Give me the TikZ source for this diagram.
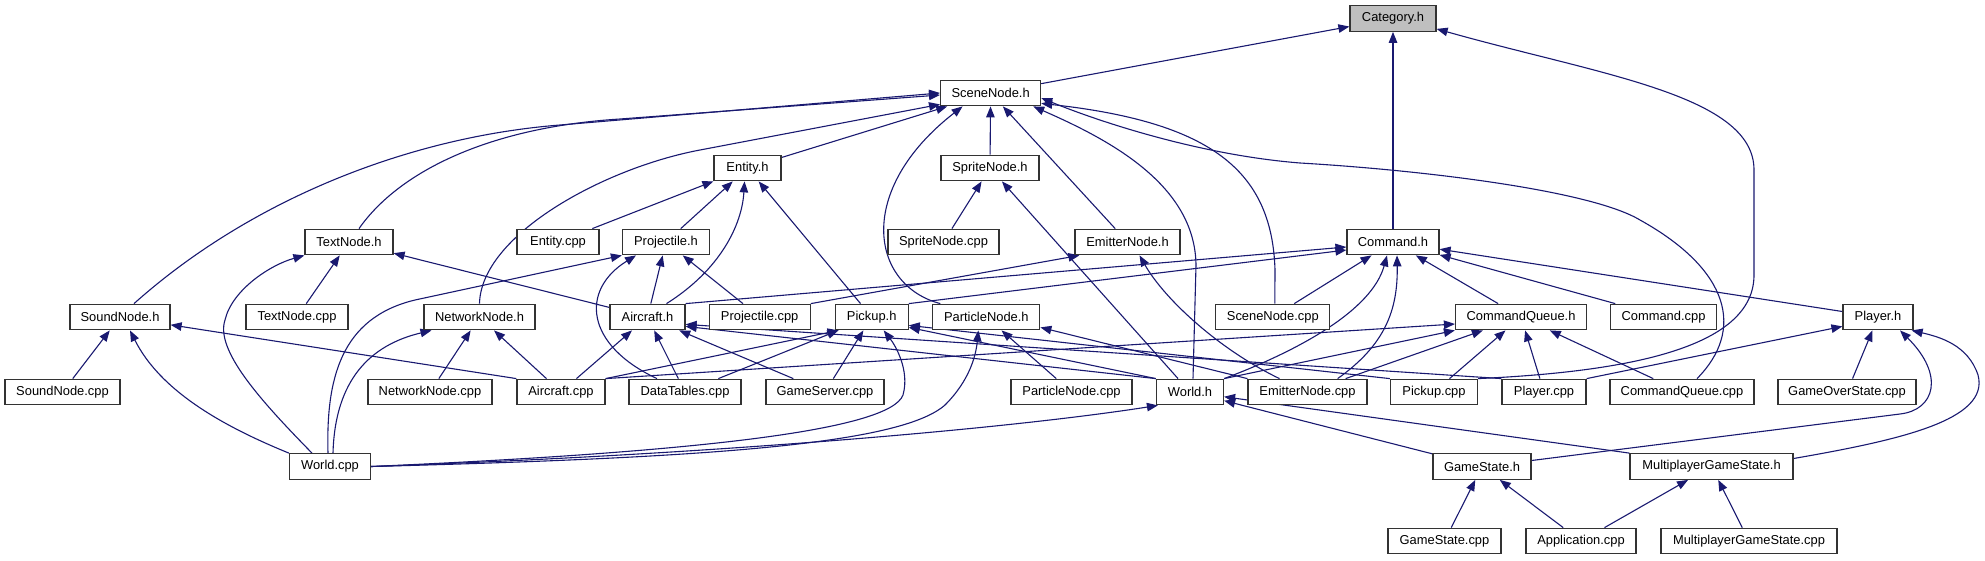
\documentclass[tikz,border=0pt]{standalone}
\usepackage{fontspec}
\setmainfont{Liberation Sans}
\usetikzlibrary{arrows.meta,calc}
\definecolor{edgeblue}{HTML}{191970}
\definecolor{catgray}{HTML}{BFBFBF}
\pgfdeclarelayer{edges}
\pgfsetlayers{edges,main}
\begin{document}
\begin{tikzpicture}[x=1pt,y=-1pt,
  nbox/.style={draw=black!80, line width=1.2pt, fill=white, minimum height=25.6pt,
    inner sep=0pt, font=\fontsize{12.9}{14}\selectfont, anchor=center},
  incl/.style={draw=edgeblue, line width=1.1pt, -{Triangle[length=11pt,width=8.5pt]}},
]
\useasboundingbox (0,0) rectangle (1985,560);
% row 0
\node[nbox, minimum width=86pt, fill=catgray] (cat) at (1393,18.5) {Category.h};
% row 1
\node[nbox, minimum width=100pt] (scn) at (990.6,93) {SceneNode.h};
% row 2
\node[nbox, minimum width=67pt] (ent) at (747.5,168) {Entity.h};
\node[nbox, minimum width=98pt] (spr) at (990,168) {SpriteNode.h};
% row 3
\node[nbox, minimum width=88pt] (txt) at (349,242) {TextNode.h};
\node[nbox, minimum width=82pt] (entc) at (558,242) {Entity.cpp};
\node[nbox, minimum width=87pt] (prj) at (666,242) {Projectile.h};
\node[nbox, minimum width=111pt] (sprc) at (943.5,242) {SpriteNode.cpp};
\node[nbox, minimum width=105pt] (emh) at (1127.5,242) {EmitterNode.h};
\node[nbox, minimum width=92pt] (cmd) at (1393,242) {Command.h};
% row 4
\node[nbox, minimum width=100pt] (sndh) at (120,317) {SoundNode.h};
\node[nbox, minimum width=102pt] (txtc) at (297,317) {TextNode.cpp};
\node[nbox, minimum width=111pt] (nnh) at (479.5,317) {NetworkNode.h};
\node[nbox, minimum width=75pt] (air) at (647.5,317) {Aircraft.h};
\node[nbox, minimum width=101pt] (prjc) at (759.7,317) {Projectile.cpp};
\node[nbox, minimum width=73pt] (pkh) at (871.7,317) {Pickup.h};
\node[nbox, minimum width=107pt] (pnh) at (986.3,317) {ParticleNode.h};
\node[nbox, minimum width=114pt] (scnc) at (1272.8,317) {SceneNode.cpp};
\node[nbox, minimum width=131pt] (cqh) at (1521,317) {CommandQueue.h};
\node[nbox, minimum width=106pt] (cmdc) at (1663.5,317) {Command.cpp};
\node[nbox, minimum width=70pt] (plh) at (1878,317) {Player.h};
% row 5
\node[nbox, minimum width=115pt] (sndc) at (62.5,392) {SoundNode.cpp};
\node[nbox, minimum width=124pt] (nnc) at (430,392) {NetworkNode.cpp};
\node[nbox, minimum width=88pt] (airc) at (561,392) {Aircraft.cpp};
\node[nbox, minimum width=112pt] (dtc) at (685,392) {DataTables.cpp};
\node[nbox, minimum width=118pt] (gsc) at (825,392) {GameServer.cpp};
\node[nbox, minimum width=121pt] (pnc) at (1071.5,392) {ParticleNode.cpp};
\node[nbox, minimum width=67pt] (wh) at (1190,392) {World.h};
\node[nbox, minimum width=119pt] (emc) at (1307.5,392) {EmitterNode.cpp};
\node[nbox, minimum width=87pt] (pkc) at (1434,392) {Pickup.cpp};
\node[nbox, minimum width=84pt] (plc) at (1544,392) {Player.cpp};
\node[nbox, minimum width=144pt] (cqc) at (1682,392) {CommandQueue.cpp};
\node[nbox, minimum width=138pt] (goc) at (1847,392) {GameOverState.cpp};
% row 6
\node[nbox, minimum width=81pt] (wc) at (330,466.5) {World.cpp};
\node[nbox, minimum width=98pt] (gsh) at (1482,466.5) {GameState.h};
\node[nbox, minimum width=163pt] (mgh) at (1711.5,466.5) {MultiplayerGameState.h};
% row 7
\node[nbox, minimum width=113pt] (gstc) at (1444.5,541) {GameState.cpp};
\node[nbox, minimum width=110pt] (appc) at (1581,541) {Application.cpp};
\node[nbox, minimum width=176pt] (mgc) at (1749,541) {MultiplayerGameState.cpp};

\begin{pgfonlayer}{edges}
% ---- Category.h
\draw[incl] (scn) -- (cat);
\draw[incl] (cmd) -- (cat);
\draw[incl] (pkc.north east) .. controls (1620,372) and (1754,350) .. (1754,275) -- (1754,170)
  .. controls (1754,95) and (1600,75) .. ($(cat.south east)+(0,-3)$);
% ---- SceneNode.h
\draw[incl] (ent) -- (scn);
\draw[incl] (spr) -- (scn);
\draw[incl] ([xshift=10pt]txt.north) .. controls (400,170) and (492,127) .. (620,119) -- ([yshift=-2pt]scn.west);
\draw[incl] ([xshift=14pt]sndh.north) .. controls (250,200) and (408,137) .. (560,125) -- ([yshift=0pt]scn.west);
\draw[incl] (nnh.north) .. controls (481,235) and (604,168) .. (700,150) -- ([yshift=2pt]scn.south west);
\draw[incl] ([xshift=-46pt]pnh.north) .. controls (870,285) and (855,190) .. ([xshift=-28pt]scn.south);
\draw[incl] (emh) -- (scn);
\draw[incl] ([xshift=3pt]wh.north) -- (1196,265) .. controls (1195,185) and (1110,140) .. ([xshift=-8pt]scn.south east);
\draw[incl] ([xshift=2pt]scnc.north) -- (1275,270) .. controls (1272,170) and (1210,122) .. ([yshift=3pt]scn.south east);
\draw[incl] ([xshift=15pt]cqc.north) .. controls (1745,330) and (1730,270) .. (1640,220)
  .. controls (1590,190) and (1420,170) .. (1300,163)
  .. controls (1200,155) and (1100,122) .. ([yshift=-5pt]scn.east);
% ---- Entity.h
\draw[incl] (entc) -- (ent);
\draw[incl] (prj) -- (ent);
\draw[incl] ([xshift=19pt]air.north) .. controls (720,270) and (742,225) .. ([xshift=-3pt]ent.south);
\draw[incl] (pkh) -- (ent);
% ---- SpriteNode.h
\draw[incl] (sprc) -- (spr);
\draw[incl] (wh) -- (spr);
% ---- TextNode.h
\draw[incl] (txtc) -- (txt);
\draw[incl] (air) -- (txt);
\draw[incl] ([xshift=-18pt]wc.north) .. controls (260,400) and (215,350) .. (225,320)
  .. controls (232,290) and (270,265) .. (txt.south west);
% ---- SoundNode.h
\draw[incl] (sndc) -- (sndh);
\draw[incl] (wc.north west) .. controls (220,425) and (160,390) .. ([xshift=10pt]sndh.south);
\draw[incl] (airc.north west) -- (sndh);
% ---- NetworkNode.h
\draw[incl] (nnc) -- (nnh);
\draw[incl] (airc) -- (nnh);
\draw[incl] ([xshift=3pt]wc.north) .. controls (335,380) and (370,345) .. ([xshift=-48pt]nnh.south);
% ---- Projectile.h
\draw[incl] (prjc) -- (prj);
\draw[incl] (air) -- (prj);
\draw[incl] ([xshift=-28pt]dtc.north) .. controls (585,345) and (580,290) .. ([xshift=-30pt]prj.south);
\draw[incl] ([xshift=-2pt]wc.north) .. controls (326,380) and (340,318) .. (415,300) -- (prj.south west);
% ---- Aircraft.h
\draw[incl] (airc) -- (air);
\draw[incl] (dtc) -- (air);
\draw[incl] (gsc) -- (air);
\draw[incl] (wh.north west) -- ([yshift=4pt]air.south east);
\draw[incl] (plc.north west) -- ([yshift=6pt]air.south east);
% ---- Pickup.h
\draw[incl] (airc.north east) -- ([xshift=4pt]pkh.south west);
\draw[incl] (dtc) -- (pkh);
\draw[incl] (gsc) -- (pkh);
\draw[incl] (wc.east) .. controls (700,452) and (890,430) .. (903,395)
  .. controls (910,370) and (895,345) .. ([xshift=12pt]pkh.south);
\draw[incl] (wh.north west) -- ([yshift=3pt]pkh.south east);
\draw[incl] (pkc.north west) -- ([yshift=5pt]pkh.south east);
% ---- ParticleNode.h
\draw[incl] (pnc) -- (pnh);
\draw[incl] (wc.east) .. controls (700,458) and (900,445) .. (945,405)
  .. controls (970,380) and (976,355) .. ([xshift=-8pt]pnh.south);
\draw[incl] (emc.north west) -- ([yshift=3pt]pnh.south east);
% ---- EmitterNode.h
\draw[incl] ([xshift=-28pt]emc.north) .. controls (1220,350) and (1165,300) .. ([xshift=12pt]emh.south);
\draw[incl] (prjc.north east) -- ([xshift=5pt]emh.south west);
% ---- Command.h
\draw[incl] (air.north east) -- ([yshift=-5pt]cmd.west);
\draw[incl] (pkh.north east) -- ([yshift=-8pt]cmd.west);
\draw[incl] (scnc) -- (cmd);
\draw[incl] (wh.north east) .. controls (1300,350) and (1372,310) .. ([xshift=-6pt]cmd.south);
\draw[incl] ([xshift=-30pt]emc.north east) .. controls (1385,345) and (1398,310) .. ([xshift=4pt]cmd.south);
\draw[incl] (cqh) -- (cmd);
\draw[incl] (cmdc) -- (cmd);
\draw[incl] (plh) -- (cmd);
% ---- CommandQueue.h
\draw[incl] (airc.north east) -- ([yshift=-7pt]cqh.west);
\draw[incl] (wh.north east) -- (cqh.south west);
\draw[incl] (emc) -- (cqh);
\draw[incl] (pkc) -- (cqh);
\draw[incl] (plc) -- (cqh);
\draw[incl] (cqc) -- (cqh);
% ---- Player.h
\draw[incl] (plc.north east) -- ([yshift=4pt]plh.south west);
\draw[incl] (goc) -- (plh);
\draw[incl] ([yshift=6pt]gsh.east) -- (1900,414) .. controls (1935,410) and (1945,375) .. ([xshift=22pt]plh.south);
\draw[incl] ([yshift=8pt]mgh.east) .. controls (1900,440) and (1990,420) .. (1978,375)
  .. controls (1968,345) and (1940,337) .. ([xshift=-2pt]plh.south east);
% ---- World.h
\draw[incl] (wc.east) .. controls (700,455) and (1000,430) .. ([xshift=2pt]wh.south west);
\draw[incl] (gsh) -- (wh);
\draw[incl] (mgh.north west) -- (wh);
% ---- GameState.h / MultiplayerGameState.h
\draw[incl] (gstc) -- (gsh);
\draw[incl] (appc) -- (gsh);
\draw[incl] (appc) -- (mgh);
\draw[incl] (mgc) -- (mgh);
\end{pgfonlayer}
\end{tikzpicture}
\end{document}
